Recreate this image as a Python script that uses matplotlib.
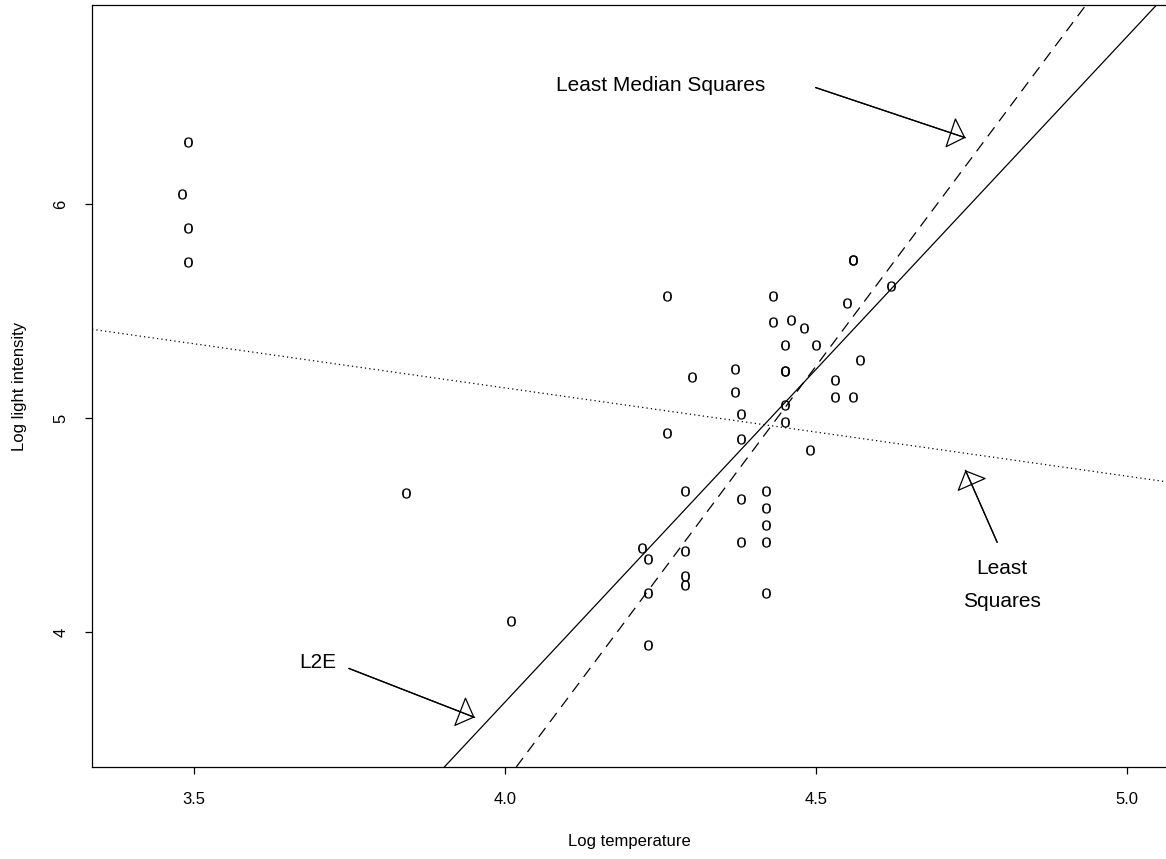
import matplotlib
matplotlib.use("Agg")
import matplotlib.pyplot as plt

# star cluster CYG OB1: log temperature vs log light intensity
log_temp = [4.37, 4.56, 4.26, 4.56, 4.30, 4.46, 3.84, 4.57, 4.26, 4.37,
            3.49, 4.43, 4.48, 4.01, 4.29, 4.42, 4.23, 4.42, 4.23, 3.49,
            4.29, 4.29, 4.42, 4.49, 4.38, 4.42, 4.29, 4.38, 4.22, 3.48,
            4.38, 4.56, 4.45, 3.49, 4.23, 4.62, 4.53, 4.45, 4.53, 4.43,
            4.38, 4.45, 4.50, 4.45, 4.55, 4.45, 4.42]
log_light = [5.23, 5.74, 4.93, 5.74, 5.19, 5.46, 4.65, 5.27, 5.57, 5.12,
             5.73, 5.45, 5.42, 4.05, 4.26, 4.58, 3.94, 4.18, 4.18, 5.89,
             4.38, 4.22, 4.42, 4.85, 5.02, 4.66, 4.66, 4.90, 4.39, 6.05,
             4.42, 5.10, 5.22, 6.29, 4.34, 5.62, 5.10, 5.22, 5.18, 5.57,
             4.62, 5.06, 5.34, 5.34, 5.54, 4.98, 4.50]

# fitted lines: (intercept, slope)
fit_ls = (6.793, -0.413)
fit_lms = (-12.27, 3.892)
fit_l2e = (-8.78, 3.113)

# annotations: label, text position(s), arrow start, arrow tip
notes = [
    (["Least Median Squares"], [(4.25, 6.528)], (4.499, 6.546), (4.740, 6.311)),
    (["Least", "Squares"], [(4.799, 4.273), (4.799, 4.116)], (4.791, 4.419), (4.740, 4.756)),
    (["L2E"], [(3.699, 3.829)], (3.749, 3.829), (3.951, 3.600)),
]

plt.rcParams["font.family"] = ["Liberation Sans", "DejaVu Sans"]

W, H = 1166, 859
fig = plt.figure(figsize=(W / 100, H / 100), dpi=100)
ax = fig.add_axes([92 / W, 1 - 767 / H, (1167 - 92) / W, (767 - 5) / H])

ax.scatter(log_temp, log_light, marker=r"$\mathregular{o}$", s=55,
           color="black", linewidths=0)

ax.axline((0, fit_ls[0]), slope=fit_ls[1], color="black", lw=0.9, ls=(0, (1, 2.5)))
ax.axline((0, fit_lms[0]), slope=fit_lms[1], color="black", lw=0.9, ls=(0, (9, 6)))
ax.axline((0, fit_l2e[0]), slope=fit_l2e[1], color="black", lw=0.9)

for labels, positions, start, tip in notes:
    for lab, (tx, ty) in zip(labels, positions):
        ax.text(tx, ty, lab, ha="center", va="baseline", fontsize=15)
    ax.annotate("", xy=tip, xytext=start,
                arrowprops=dict(arrowstyle="-", lw=0.9, color="black",
                                shrinkA=0, shrinkB=0))
    ax.annotate("", xy=tip, xytext=start,
                arrowprops=dict(arrowstyle="-|>,head_length=10.5,head_width=10.5",
                                mutation_scale=1, lw=0.9, ec="black", fc="none",
                                shrinkA=0, shrinkB=0))

ax.set_xlim(3.336, 5.064)
ax.set_ylim(3.368, 6.932)
ax.set_xticks([3.5, 4.0, 4.5, 5.0])
ax.set_xticklabels(["3.5", "4.0", "4.5", "5.0"])
ax.set_yticks([4, 5, 6])
ax.set_yticklabels(["4", "5", "6"], rotation=90, va="center")
ax.tick_params(axis="both", direction="out", length=5, width=0.9, labelsize=12)
ax.tick_params(axis="x", pad=13)
ax.tick_params(axis="y", pad=12)
for sp in ax.spines.values():
    sp.set_linewidth(0.9)

ax.set_xlabel("Log temperature", fontsize=12)
ax.set_ylabel("Log light intensity", fontsize=12)
ax.xaxis.set_label_coords(0.5, -0.088)
ax.yaxis.set_label_coords(-0.060, 0.5)

fig.savefig("out.png", dpi=100)
